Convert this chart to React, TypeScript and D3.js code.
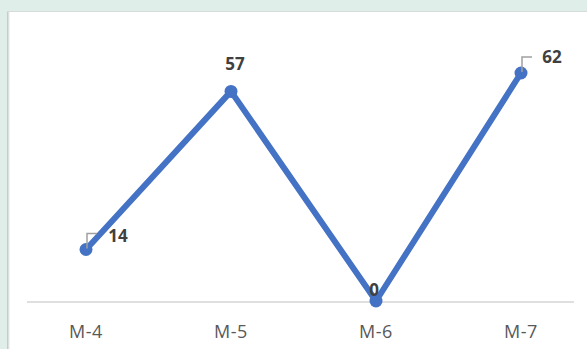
import React from "react";
import * as d3 from "d3";

const categories = ["M-4", "M-5", "M-6", "M-7"];
const values = [14, 57, 0, 62];
const labelOffsets = [
  { dx: 32, dy: -8, leader: true },
  { dx: 4, dy: -21, leader: false },
  { dx: -2, dy: -5, leader: false },
  { dx: 31, dy: -10, leader: true },
];

const W = 587;
const H = 349;

export default function App() {
  const x = d3.scalePoint<string>().domain(categories).range([86, 521]);
  const y = d3.scaleLinear().domain([0, 62]).range([301, 73]);
  const line = d3
    .line<number>()
    .x((_, i) => x(categories[i]) as number)
    .y((d) => y(d));

  return (
    <div style={{ position: "fixed", left: 0, top: 0, width: W, height: H }}>
      <svg width={W} height={H} style={{ display: "block" }}>
        <defs>
          <linearGradient id="shadowL" x1="0" x2="1" y1="0" y2="0">
            <stop offset="0" stopColor="#b9c2be" />
            <stop offset="1" stopColor="#ffffff" />
          </linearGradient>
        </defs>
        <rect x={0} y={0} width={W} height={H} fill="#dfeee8" />
        <rect x={7} y={11} width={W - 7} height={H - 11} fill="#ffffff" />
        <rect x={7} y={11} width={3} height={H - 11} fill="url(#shadowL)" />
        <line x1={7} x2={W} y1={11.5} y2={11.5} stroke="#d6ddd9" strokeWidth={1} />
        <line x1={27} x2={574} y1={y(0) + 1} y2={y(0) + 1} stroke="#d4d4d4" strokeWidth={1.5} />
        {categories.map((c) => (
          <text
            key={c}
            x={x(c) as number}
            y={338}
            textAnchor="middle"
            fontFamily="'Open Sans', sans-serif"
            fontSize={18}
            letterSpacing={0.5}
            fill="#595959"
          >
            {c}
          </text>
        ))}
        <path d={line(values) ?? ""} fill="none" stroke="#4472c4" strokeWidth={6} strokeLinejoin="round" />
        {values.map((v, i) => (
          <circle key={i} cx={x(categories[i]) as number} cy={y(v)} r={6.5} fill="#4472c4" />
        ))}
        {values.map((v, i) => {
          const px = x(categories[i]) as number;
          const py = y(v);
          const o = labelOffsets[i];
          return (
            <g key={"l" + i}>
              {o.leader && (
                <polyline
                  points={`${px + 1},${py - 1} ${px + 1},${py - 16} ${px + 11},${py - 16}`}
                  fill="none"
                  stroke="#a0a0a0"
                  strokeWidth={1.5}
                />
              )}
              <text
                x={px + o.dx}
                y={py + o.dy}
                textAnchor="middle"
                fontFamily="'Open Sans', sans-serif"
                fontWeight="bold"
                fontSize={17}
                fill="#404040"
              >
                {v}
              </text>
            </g>
          );
        })}
      </svg>
    </div>
  );
}
